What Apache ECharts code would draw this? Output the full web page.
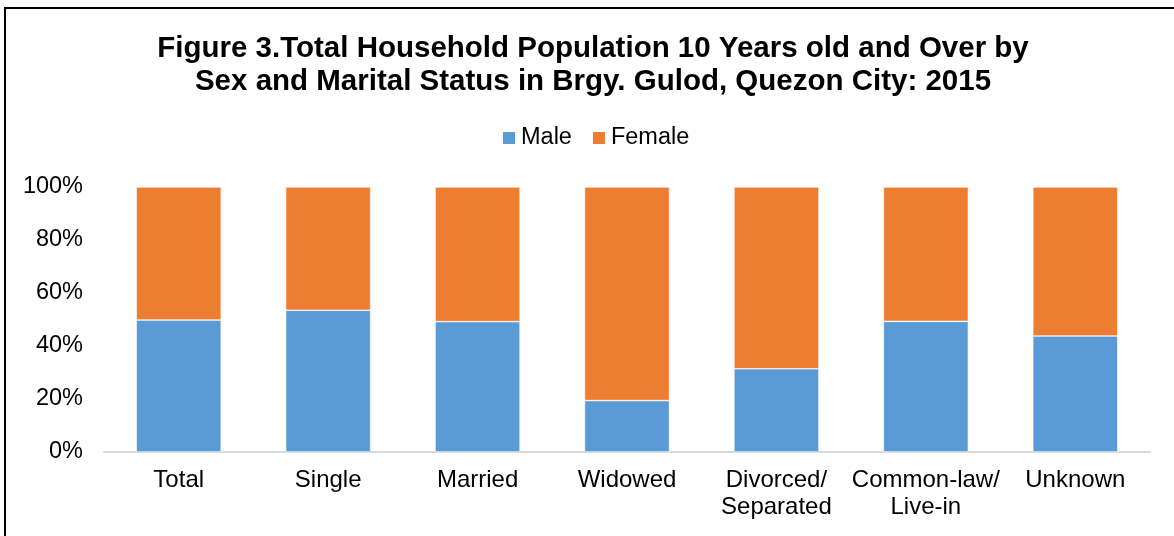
<!DOCTYPE html>
<html>
<head>
<meta charset="utf-8">
<script src="https://cdn.jsdelivr.net/npm/echarts@6/dist/echarts.min.js"></script>
<style>
  html, body { margin: 0; padding: 0; background: #fff; }
  #wrap { position: relative; width: 1174px; height: 536px; overflow: hidden; }
  #chart { position: absolute; left: 0; top: 0; width: 1174px; height: 536px; }
  #frame { position: absolute; left: 4px; top: 7px; width: 1200px; height: 600px;
           border-left: 2px solid #000; border-top: 2px solid #000; pointer-events: none; }
</style>
</head>
<body>
<div id="wrap">
  <div id="chart"></div>
  <div id="frame"></div>
</div>
<script>
const titleText = 'Figure 3.Total Household Population 10 Years old and Over by\nSex and Marital Status in Brgy. Gulod, Quezon City: 2015';
const categories = ['Total', 'Single', 'Married', 'Widowed', 'Divorced/\nSeparated', 'Common-law/\nLive-in', 'Unknown'];
const seriesNames = ['Male', 'Female'];
const maleValues = [49.8, 53.5, 49.2, 19.4, 31.4, 49.3, 43.8];
const femaleValues = [50.2, 46.5, 50.8, 80.6, 68.6, 50.7, 56.2];
const yTicks = [0, 20, 40, 60, 80, 100];

const FONT = "'Liberation Sans', Arial, sans-serif";
const chart = echarts.init(document.getElementById('chart'), null, { renderer: 'canvas' });
chart.setOption({
  animation: false,
  backgroundColor: '#fff',
  title: {
    text: titleText,
    left: 588,
    textAlign: 'center',
    top: 27,
    textStyle: { fontFamily: FONT, fontSize: 29.5, fontWeight: 'bold', color: '#000', lineHeight: 33 }
  },
  legend: {
    data: seriesNames,
    left: 496,
    top: 121,
    itemWidth: 14,
    itemHeight: 14,
    itemGap: 19,
    icon: 'rect',
    textStyle: { fontFamily: FONT, fontSize: 23.5, color: '#000' }
  },
  grid: { left: 104, right: 24, top: 187, bottom: 84, containLabel: false },
  xAxis: {
    type: 'category',
    data: categories,
    axisLine: { lineStyle: { color: '#D9D9D9', width: 2 } },
    axisTick: { show: false },
    axisLabel: { fontFamily: FONT, fontSize: 24, color: '#000', lineHeight: 27, margin: 15, interval: 0 }
  },
  yAxis: {
    type: 'value',
    min: yTicks[0],
    max: yTicks[yTicks.length - 1],
    interval: 20,
    axisLine: { show: false },
    axisTick: { show: false },
    splitLine: { show: false },
    axisLabel: { fontFamily: FONT, fontSize: 23.5, color: '#000', margin: 21, formatter: '{value}%' }
  },
  series: [
    {
      name: seriesNames[0], type: 'bar', stack: 'total', data: maleValues,
      barWidth: 85,
      itemStyle: { color: '#5B9BD5', borderColor: '#fff', borderWidth: 0.6 }
    },
    {
      name: seriesNames[1], type: 'bar', stack: 'total', data: femaleValues,
      barWidth: 85,
      itemStyle: { color: '#ED7D31', borderColor: '#fff', borderWidth: 0.6 }
    }
  ]
});
</script>
</body>
</html>
